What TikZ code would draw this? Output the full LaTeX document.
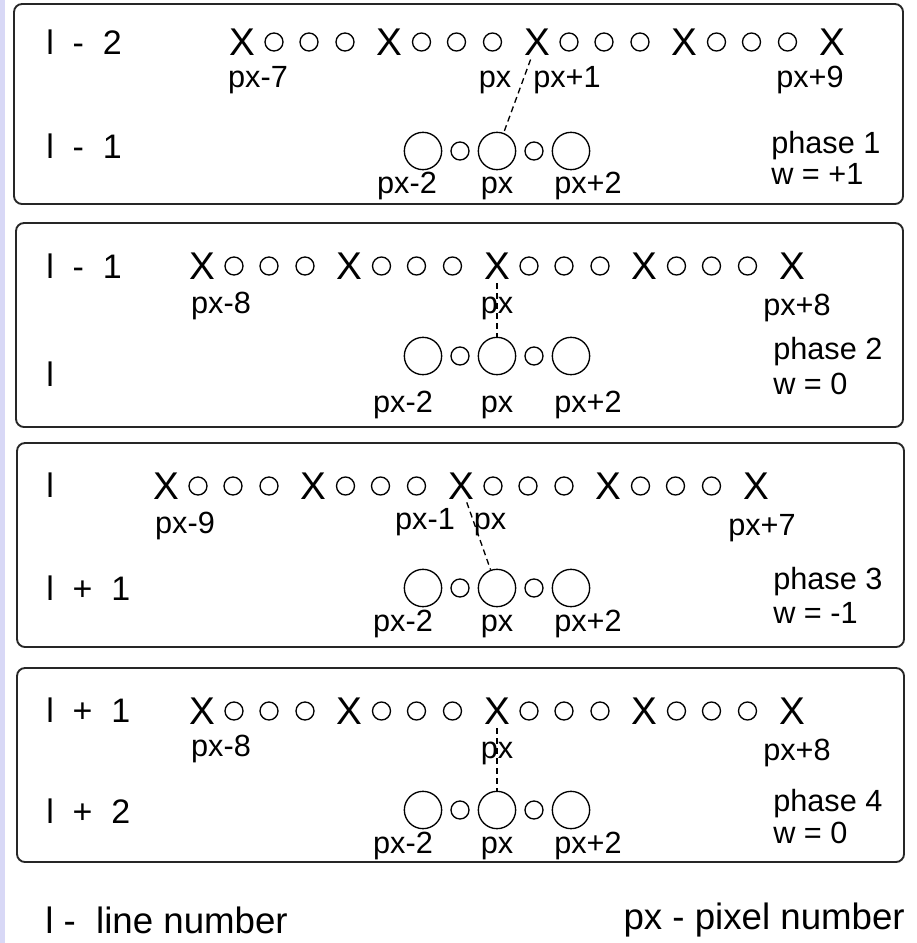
\documentclass[tikz,border=0pt]{standalone}
\usepackage{fontspec}
\setmainfont{Liberation Sans}
\usetikzlibrary{calc}
\definecolor{lav}{RGB}{216,216,246}
\newcommand\xrowdraw[3]{% name, y, first X x
  \foreach \i in {0,...,4}{\node[xm] (#1x\i) at ({#3+147.5*\i},#2) {X};}
  \foreach \i in {0,...,3}{
    \node[sm] (#1c\i a) at ({#3+147.5*\i+32},#2) {};
    \node[sm] (#1c\i b) at ({#3+147.5*\i+67},#2) {};
    \node[sm] (#1c\i c) at ({#3+147.5*\i+103},#2) {};
  }}
\newcommand\bigrowdraw[2]{% name, y
  \node[bg] (#1b1) at (423,#2) {};
  \node[sm] (#1s1) at (460,#2) {};
  \node[bg] (#1b2) at (497,#2) {};
  \node[sm] (#1s2) at (534,#2) {};
  \node[bg] (#1b3) at (571,#2) {};}
\begin{document}
\begin{tikzpicture}[x=0.75pt,y=-0.75pt,
  panel/.style={draw=black!85, line width=1.4pt, rounded corners=6pt},
  lineno/.style={font=\fontsize{25.5}{28}\selectfont, inner sep=0, anchor=west},
  xm/.style={font=\fontsize{29}{31}\selectfont, inner sep=0},
  lab/.style={font=\fontsize{23}{25}\selectfont, inner sep=0, text height=16.5pt, text depth=4.8pt},
  ph/.style={font=\fontsize{23}{25}\selectfont, inner sep=0, anchor=west, text height=16.5pt, text depth=4.8pt},
  sm/.style={draw, circle, line width=1pt, minimum size=13.5pt, inner sep=0},
  bg/.style={draw, circle, line width=1pt, minimum size=28pt, inner sep=0},
  conn/.style={draw, line width=1pt, dash pattern=on 4.5pt off 3pt},
  foot/.style={font=\fontsize{27.5}{30}\selectfont, inner sep=0}
]
\fill[white] (0,0) rectangle (917,943);
\fill[lav] (0,0) rectangle (5,943);
\path[use as bounding box] (0,0) rectangle (917,943);

% ---------- panel 1
\draw[panel] (14,4) rectangle (903,204);
\node[lineno] (p1l1) at (46,42) {l\ \ -\ \ 2};
\node[lineno] (p1l2) at (46,146) {l\ \ -\ \ 1};
\xrowdraw{p1}{42}{242}
\node[lab] (p1la) at (258,80) {px-7};
\node[lab] (p1lb) at (495,80) {px};
\node[lab] (p1lc) at (567,80) {px+1};
\node[lab] (p1ld) at (810,80) {px+9};
\bigrowdraw{p1}{151}
\node[lab] (p1m1) at (407,186) {px-2};
\node[lab] (p1m2) at (497,186) {px};
\node[lab] (p1m3) at (588,186) {px+2};
\node[ph] (p1ph) at (771,146) {phase 1};
\node[ph] (p1w) at (771,177) {w = +1};
\draw[conn, shorten <=14pt] (p1x2.center) -- (p1b2);

% ---------- panel 2
\draw[panel] (16,223) rectangle (903,427);
\node[lineno] (p2l1) at (46,266) {l\ \ -\ \ 1};
\node[lineno] (p2l2) at (46,374) {l};
\xrowdraw{p2}{266}{202}
\node[lab] (p2la) at (221,306) {px-8};
\node[lab] (p2lb) at (497,306) {px};
\node[lab] (p2lc) at (797,308) {px+8};
\bigrowdraw{p2}{356}
\node[lab] (p2m1) at (403,405) {px-2};
\node[lab] (p2m2) at (497,405) {px};
\node[lab] (p2m3) at (588,405) {px+2};
\node[ph] (p2ph) at (773,352) {phase 2};
\node[ph] (p2w) at (773,387) {w = 0};
\draw[conn, shorten <=13pt] (p2x2.center) -- (p2b2);

% ---------- panel 3
\draw[panel] (17,443) rectangle (904,647);
\node[lineno] (p3l1) at (46,485) {l};
\node[lineno] (p3l2) at (46,588) {l\ \ +\ \ 1};
\xrowdraw{p3}{486}{166}
\node[lab] (p3la) at (185,526) {px-9};
\node[lab] (p3lb) at (425,522) {px-1};
\node[lab] (p3lc) at (490,522) {px};
\node[lab] (p3ld) at (762,528) {px+7};
\bigrowdraw{p3}{588}
\node[lab] (p3m1) at (403,624) {px-2};
\node[lab] (p3m2) at (497,624) {px};
\node[lab] (p3m3) at (588,624) {px+2};
\node[ph] (p3ph) at (773,582) {phase 3};
\node[ph] (p3w) at (773,616) {w = -1};
\draw[conn, shorten <=13pt] (p3x2.center) -- (p3b2);

% ---------- panel 4
\draw[panel] (17,668) rectangle (904,862);
\node[lineno] (p4l1) at (46,710) {l\ \ +\ \ 1};
\node[lineno] (p4l2) at (46,811) {l\ \ +\ \ 2};
\xrowdraw{p4}{711}{202}
\node[lab] (p4la) at (221,749) {px-8};
\node[lab] (p4lb) at (497,751) {px};
\node[lab] (p4lc) at (797,753) {px+8};
\bigrowdraw{p4}{810}
\node[lab] (p4m1) at (403,846) {px-2};
\node[lab] (p4m2) at (497,846) {px};
\node[lab] (p4m3) at (588,846) {px+2};
\node[ph] (p4ph) at (773,804) {phase 4};
\node[ph] (p4w) at (773,836) {w = 0};
\draw[conn, shorten <=13pt] (p4x2.center) -- (p4b2);

% ---------- footer
\node[foot, anchor=west] (fl) at (45,920) {l -\ \ line number};
\node[foot, anchor=east] (fr) at (905,920) {px - pixel number};
\end{tikzpicture}
\end{document}
